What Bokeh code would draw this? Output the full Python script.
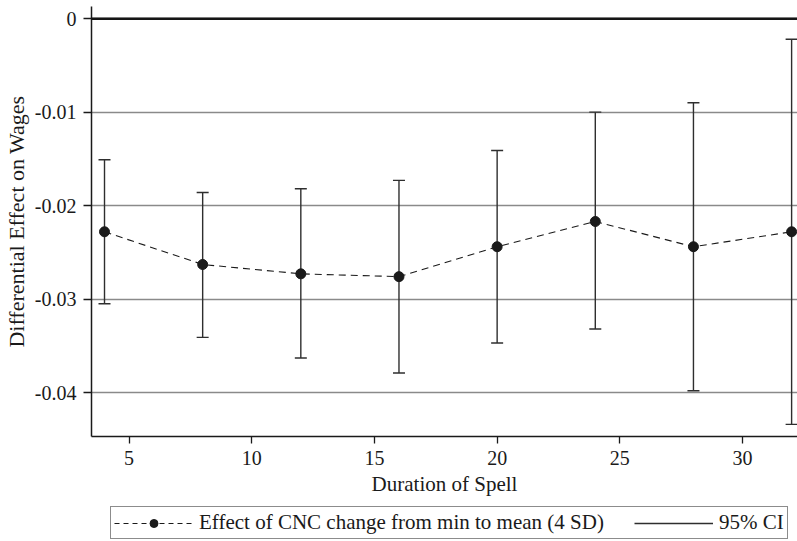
from bokeh.plotting import figure
from bokeh.layouts import column
from bokeh.models import (Span, Legend, LegendItem, FixedTicker,
                          CustomJSTickFormatter, ColumnDataSource)
from bokeh.embed import file_html
from bokeh.resources import INLINE

# ---- data ----
duration = [4, 8, 12, 16, 20, 24, 28, 32]
effect = [-0.0228, -0.0263, -0.0273, -0.0276, -0.0244, -0.0217, -0.0244, -0.0228]
ci_upper = [-0.0151, -0.0186, -0.0182, -0.0173, -0.0141, -0.0100, -0.0090, -0.0022]
ci_lower = [-0.0305, -0.0341, -0.0363, -0.0379, -0.0347, -0.0332, -0.0398, -0.0434]
x_ticks = [5, 10, 15, 20, 25, 30]
y_ticks = [0, -0.01, -0.02, -0.03, -0.04]
series_label = "Effect of CNC change from min to mean (4 SD)"
ci_label = "95% CI"

FONT = "Liberation Serif"
INK = "#1a1a1a"
BAR = "#2e2e2e"

src = ColumnDataSource(dict(x=duration, y=effect, lo=ci_lower, hi=ci_upper))

p = figure(width=797, height=500, output_backend="svg", toolbar_location=None,
           x_range=(3.47, 32.24), y_range=(-0.0447, 0.0013),
           min_border_left=90, min_border_right=0, min_border_top=6,
           min_border_bottom=64)
p.outline_line_color = None
p.background_fill_color = "white"
p.border_fill_color = "white"

# grid
p.xgrid.visible = False
p.ygrid.ticker = FixedTicker(ticks=y_ticks)
p.ygrid.grid_line_color = "#8a8a8a"
p.ygrid.grid_line_width = 1.5

zero = Span(location=y_ticks[0], dimension="width", line_color="#151515", line_width=2.5)
p.add_layout(zero)

# error bars
ci = p.segment(x0="x", y0="lo", x1="x", y1="hi", source=src,
               line_color=BAR, line_width=1.4)
p.scatter(x="x", y="lo", source=src, marker="dash", size=12,
          line_color=BAR, line_width=1.4)
p.scatter(x="x", y="hi", source=src, marker="dash", size=12,
          line_color=BAR, line_width=1.4)

# effect line
ln = p.line(x="x", y="y", source=src, line_color=INK, line_width=1.1,
            line_dash="7 5")
pts = p.scatter(x="x", y="y", source=src, marker="circle", size=10,
                fill_color=INK, line_color=INK)

# axes
for ax in (p.xaxis[0], p.yaxis[0]):
    ax.axis_line_color = INK
    ax.axis_line_width = 1.5
    ax.major_tick_line_color = INK
    ax.major_tick_line_width = 1.3
    ax.major_tick_in = 0
    ax.minor_tick_line_color = None
    ax.major_label_text_font = FONT
    ax.major_label_text_font_size = "20px"
    ax.major_label_text_color = INK
    ax.axis_label_text_font = FONT
    ax.axis_label_text_font_style = "normal"
    ax.axis_label_text_color = INK

p.xaxis.ticker = FixedTicker(ticks=x_ticks)
p.xaxis.major_tick_out = 7
p.xaxis.major_label_standoff = 7
p.xaxis.axis_label = "Duration of Spell"
p.xaxis.axis_label_text_font_size = "21px"
p.xaxis.axis_label_standoff = 4

p.yaxis.ticker = FixedTicker(ticks=y_ticks)
p.yaxis.formatter = CustomJSTickFormatter(
    code="return Math.abs(tick) < 1e-12 ? '0' : tick.toFixed(2);")
p.yaxis.major_tick_out = 8
p.yaxis.major_label_standoff = 7
p.yaxis.major_label_orientation = "horizontal"
p.yaxis.axis_label = "Differential Effect on Wages"
p.yaxis.axis_label_text_font_size = "22px"
p.yaxis.axis_label_standoff = 3

# ---- legend strip below the chart ----
# proxy renderers share the data but fall outside this strip's ranges,
# so only their legend glyphs are seen
lf = figure(width=797, height=41, output_backend="svg", toolbar_location=None,
            x_axis_type=None, y_axis_type=None, x_range=(100, 101), y_range=(100, 101),
            min_border=0)
lf.outline_line_color = None
lf.background_fill_color = "white"
lf.border_fill_color = "white"

l_ln = lf.line(x="x", y="y", source=src, line_color=INK, line_width=1.1,
               line_dash="5 4")
l_pts = lf.scatter(x="x", y="y", source=src, marker="circle",
                   fill_color=INK, line_color=INK)
l_ci = lf.segment(x0="x", y0="lo", x1="x", y1="hi", source=src,
                  line_color=BAR, line_width=1.4)

legend = Legend(items=[
    LegendItem(label=series_label, renderers=[l_ln, l_pts]),
    LegendItem(label=ci_label, renderers=[l_ci]),
], orientation="horizontal", location=(19, 2))
legend.label_text_font = FONT
legend.label_text_font_size = "21px"
legend.label_text_color = INK
legend.glyph_width = 79
legend.glyph_height = 20
legend.label_height = 20
legend.label_standoff = 6
legend.spacing = 30
legend.padding = 3
legend.margin = 0
legend.border_line_color = INK
legend.border_line_width = 1.2
legend.background_fill_color = "white"
lf.add_layout(legend, "center")

layout = column(p, lf, spacing=0)
open("out.html", "w").write(file_html(layout, INLINE))
